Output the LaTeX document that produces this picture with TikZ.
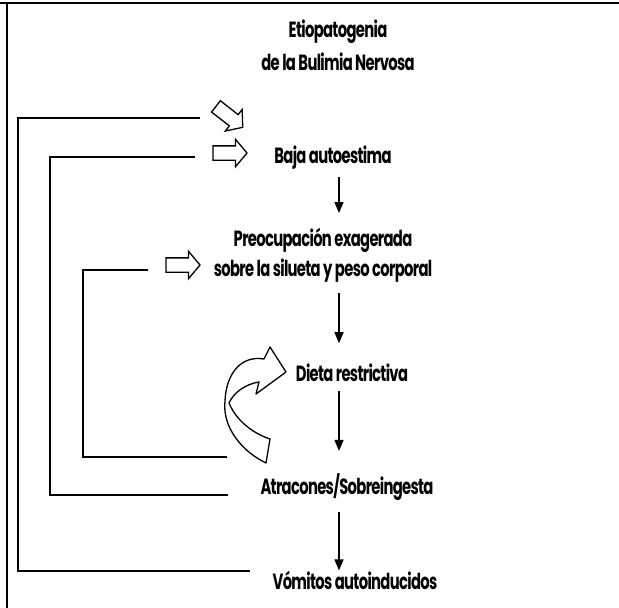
\documentclass[tikz,border=0pt]{standalone}
\usepackage{fontspec}
\usetikzlibrary{shapes.arrows,arrows.meta}
\newfontfamily\lblfont{Poppins}[FakeStretch=0.67,LetterSpace=-3]

\begin{document}
\begin{tikzpicture}[x=1pt,y=-1pt,
	lbl/.style={inner sep=0pt,font=\lblfont\bfseries\fontsize{22}{30}\selectfont},
	hollow/.style={draw,single arrow,line width=1.3pt,inner xsep=0pt,inner ysep=6.5pt,
		minimum height=34pt,minimum width=0pt,
		single arrow head extend=6.5pt,single arrow tip angle=100},
	flow/.style={line width=1.3pt,-{Triangle[length=11pt,width=9pt]}},
	loopline/.style={line width=1.8pt}]

	\useasboundingbox (0,0) rectangle (619,608);

	%\draw[help lines,step=50] (0,0) grid (619,608);

	% page frame
	\draw[line width=1.6pt] (0,3) -- (619,3);
	\draw[line width=1.6pt] (7,3) -- (7,608);

	\coordinate (col) at (339,0);

	% title and stages
	\node[lbl,align=center,anchor=north] (titulo) at (338,20)
		{Etiopatogenia\\[3pt]de la Bulimia Nervosa};
	\node[lbl,anchor=base] (baja) at (333,163) {Baja autoestima};
	\node[lbl,align=center,anchor=north] (preo) at (323,228)
		{Preocupación exagerada\\sobre la silueta y peso corporal};
	\node[lbl,anchor=base] (dieta) at (352,381) {Dieta restrictiva};
	\node[lbl,anchor=base] (atrac) at (347,494) {Atracones/Sobreingesta};
	\node[lbl,anchor=base] (vomit) at (355,589) {Vómitos autoinducidos};

	% hollow arrows at the loop ends
	\node[hollow,rotate=-38] (flechaA) at (227,115) {};
	\node[hollow] (flechaB) at (227,153) {};
	\node[hollow] (flechaC) at (180,265) {};

	% downward chain
	\draw[flow,shorten <=8pt,shorten >=15pt] (baja.south -| col) -- (preo.north -| col);
	\draw[flow,shorten <=10pt,shorten >=20pt] (preo.south -| col) -- (dieta.north -| col);
	\draw[flow,shorten <=10pt,shorten >=22pt] (dieta.south -| col) -- (atrac.north -| col);
	\draw[flow,shorten <=12pt,shorten >=0pt] (atrac.south -| col) -- (vomit.north -| col);

	% feedback loops
	\coordinate (v0) at (250,571);
	\coordinate (a0) at (228,495);
	\coordinate (d0) at (227,457);
	\draw[loopline] (v0) -| (18,118) -- (200,118);
	\draw[loopline] (a0) -| (50,157) -- (195,157);
	\draw[loopline] (d0) -| (83,270) -- (148,270);

	% twisted arrow looping back onto the diet
	\coordinate (t1) at (270,439);
	\coordinate (t2) at (266,463);
	\coordinate (l1) at (225,401);
	\coordinate (l2) at (229,403);
	\coordinate (h1) at (264,359);
	\coordinate (h2) at (259,382);
	\coordinate (ha) at (270,347);
	\coordinate (hb) at (256,394);
	\coordinate (tip) at (286,372);
	\draw[line width=1.3pt,fill=white,line join=round]
		(t1) .. controls (252,433) and (236,420) .. (l2)
		.. controls (234,392) and (246,384) .. (h2)
		-- (hb) -- (tip) -- (ha) -- (h1)
		.. controls (240,355) and (226,375) .. (l1)
		.. controls (222,428) and (243,452) .. (t2) -- cycle;

\end{tikzpicture}
\end{document}
